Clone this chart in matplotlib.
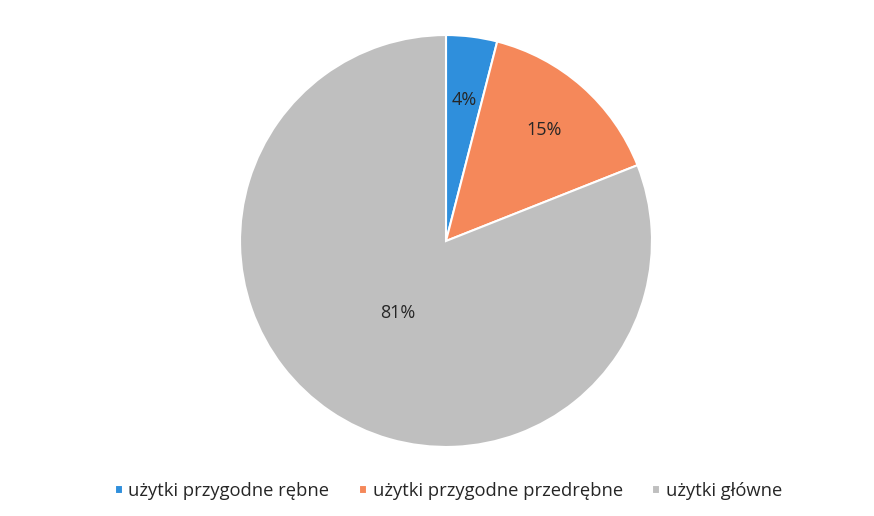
import numpy as np
import matplotlib.pyplot as plt

plt.rcParams['font.family'] = ['Open Sans', 'DejaVu Sans']

labels = ["użytki przygodne rębne", "użytki przygodne przedrębne", "użytki główne"]
values = [4, 15, 81]
colors = ["#2f8fdc", "#f5885a", "#bfbfbf"]
label_r = [0.69, 0.72, 0.42]

fig = plt.figure(figsize=(8.74, 5.16), dpi=100)
ax = fig.add_axes([239 / 874, 68 / 516, 414 / 874, 414 / 516])

wedges, texts = ax.pie(values, colors=colors, startangle=90, counterclock=False,
                       wedgeprops=dict(edgecolor="white", linewidth=1.5))
ax.set_aspect("equal")
ax.set_xlim(-1.005, 1.005)
ax.set_ylim(-1.005, 1.005)

for w, v, r in zip(wedges, values, label_r):
    ang = np.deg2rad((w.theta1 + w.theta2) / 2)
    ax.text(r * np.cos(ang), r * np.sin(ang), f"{v}%", ha="center", va="center",
            fontsize=13, color="#262626")

leg = fig.legend(wedges, labels, loc="center", bbox_to_anchor=(0.513, 25 / 516),
                 ncol=3, frameon=False, fontsize=13.2, handlelength=0.45, handleheight=0.45,
                 columnspacing=1.6, handletextpad=0.3, labelcolor="#262626")

fig.savefig("out.png", dpi=100)
